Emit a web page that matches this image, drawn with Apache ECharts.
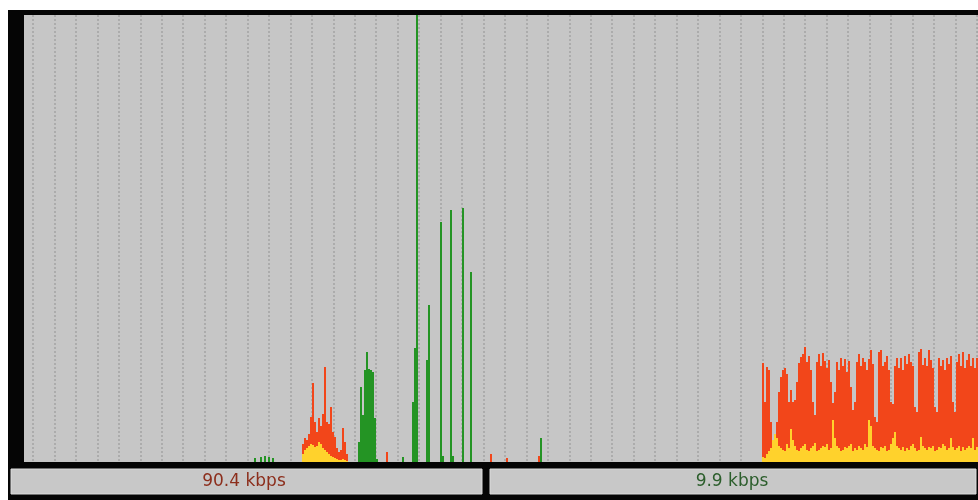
<!DOCTYPE html>
<html><head><meta charset="utf-8">
<script src="https://cdn.jsdelivr.net/npm/echarts@6/dist/echarts.min.js"></script>
<style>html,body{margin:0;padding:0;background:#fff}#c{width:978px;height:500px}</style>
</head><body><div id="c"></div>
<script>
// ---- data (sample index = time slot, value = traffic height on a 0..447 scale) ----
const sampleCount = 477;
const yMax = 447;

const clusterAStart = 139;
const clusterATotal  = [18, 24, 22, 28, 45, 79, 40, 30, 44, 36, 48, 95, 40, 38, 55, 30, 25, 14, 10, 12, 34, 20, 8];
const clusterAYellow = [8, 12, 14, 16, 18, 17, 15, 16, 20, 18, 14, 12, 10, 8, 6, 5, 4, 3, 2, 2, 3, 2, 1];

const clusterBStart = 369;
const clusterBTotal = [
  99, 60, 95, 92, 40, 22, 25, 40, 70, 85, 92, 94,
  88, 60, 72, 60, 62, 80, 99, 105, 108, 115, 100, 106,
  92, 60, 47, 100, 108, 96, 109, 101, 94, 102, 80, 59,
  70, 100, 92, 104, 96, 103, 90, 101, 75, 52, 60, 100,
  108, 96, 104, 100, 92, 103, 112, 98, 45, 40, 110, 112,
  96, 100, 106, 92, 60, 58, 96, 104, 94, 104, 92, 106,
  98, 108, 100, 96, 55, 50, 110, 113, 97, 104, 96, 112,
  102, 94, 55, 50, 104, 96, 102, 92, 104, 98, 106, 60,
  50, 100, 108, 96, 110, 94, 102, 108, 96, 104, 94, 104
];
const clusterBYellow = [
  5, 4, 8, 11, 14, 22, 28, 24, 16, 14, 12, 11,
  18, 14, 33, 22, 16, 12, 11, 14, 16, 18, 12, 11,
  14, 16, 19, 11, 12, 14, 16, 15, 18, 12, 14, 42,
  24, 16, 14, 11, 12, 15, 14, 16, 18, 11, 14, 12,
  16, 14, 12, 18, 15, 42, 36, 16, 14, 12, 11, 15,
  14, 16, 11, 12, 18, 24, 30, 16, 14, 12, 15, 11,
  14, 12, 16, 18, 14, 11, 12, 25, 16, 14, 12, 15,
  14, 16, 11, 12, 15, 14, 18, 16, 12, 14, 24, 15,
  12, 14, 16, 11, 15, 12, 14, 16, 14, 24, 12, 15
];

const greenPoints = [
  [115, 4], [118, 5], [120, 6], [122, 5], [124, 4],
  [167, 20], [168, 75], [169, 47], [170, 92], [171, 110], [172, 93], [173, 92], [174, 90], [175, 44], [176, 3],
  [189, 5], [194, 60], [195, 114], [196, 447], [201, 102], [202, 157],
  [208, 240], [209, 6], [213, 252], [214, 6], [219, 254], [223, 190], [258, 24]
];
const redPoints = [[181, 10], [233, 8], [241, 4], [257, 6]];

const readouts = ['90.4 kbps', '9.9 kbps'];

// ---- build full arrays for the category axis ----
const slots = [];
for (let i = 0; i < sampleCount; i++) slots.push(String(i));
const red = new Array(sampleCount).fill(0);
const yellow = new Array(sampleCount).fill(0);
const green = new Array(sampleCount).fill(0);
clusterATotal.forEach((v, i) => red[clusterAStart + i] = v);
clusterAYellow.forEach((v, i) => yellow[clusterAStart + i] = v);
clusterBTotal.forEach((v, i) => red[clusterBStart + i] = v);
clusterBYellow.forEach((v, i) => yellow[clusterBStart + i] = v);
redPoints.forEach(p => red[p[0]] = p[1]);
greenPoints.forEach(p => green[p[0]] = p[1]);

const chart = echarts.init(document.getElementById('c'), null, {renderer: 'canvas'});
const hidden = {axisLine: {show: false}, axisTick: {show: false}, axisLabel: {show: false}, splitLine: {show: false}};

chart.setOption({
  animation: false,
  backgroundColor: '#ffffff',
  grid: [
    {left: 24, top: 15, width: 954, height: 447, show: true, backgroundColor: '#c6c6c6', borderWidth: 0},
    {left: 33, top: 15, width: 945, height: 447, show: false}
  ],
  xAxis: [
    Object.assign({type: 'category', data: slots, gridIndex: 0, boundaryGap: true}, hidden),
    {type: 'value', gridIndex: 1, min: 0, max: 945 / 21.45, interval: 1,
     axisLine: {show: false}, axisTick: {show: false}, axisLabel: {show: false},
     splitLine: {show: true, lineStyle: {color: '#a4a4a4', width: 1.5, type: [2, 2]}}}
  ],
  yAxis: [
    Object.assign({type: 'value', gridIndex: 0, min: 0, max: yMax}, hidden),
    Object.assign({type: 'value', gridIndex: 1, min: 0, max: 1}, hidden)
  ],
  graphic: [
    {type: 'rect', z: -100, shape: {x: 8, y: 10, width: 970, height: 490}, style: {fill: '#050505'}},
    {type: 'rect', z: 10, shape: {x: 11, y: 469, width: 471, height: 25}, style: {fill: '#c8c8c8', stroke: '#dcdcdc', lineWidth: 1}},
    {type: 'rect', z: 10, shape: {x: 490, y: 469, width: 486, height: 25}, style: {fill: '#c8c8c8', stroke: '#dcdcdc', lineWidth: 1}},
    {type: 'text', z: 11, x: 244, y: 482, style: {text: readouts[0], fill: '#8c2e1c', font: '17px "DejaVu Sans"', textAlign: 'center', textVerticalAlign: 'middle'}},
    {type: 'text', z: 11, x: 732, y: 482, style: {text: readouts[1], fill: '#2c5e2c', font: '17px "DejaVu Sans"', textAlign: 'center', textVerticalAlign: 'middle'}}
  ],
  series: [
    {type: 'bar', name: 'out', data: red, xAxisIndex: 0, yAxisIndex: 0, barWidth: 2, barGap: '-100%', barCategoryGap: 0,
     itemStyle: {color: '#f2461a'}, z: 3},
    {type: 'bar', name: 'in', data: yellow, xAxisIndex: 0, yAxisIndex: 0, barWidth: 2, barGap: '-100%',
     itemStyle: {color: '#ffd22c'}, z: 4},
    {type: 'bar', name: 'local', data: green, xAxisIndex: 0, yAxisIndex: 0, barWidth: 2, barGap: '-100%',
     itemStyle: {color: '#249424'}, z: 5}
  ]
});
</script></body></html>
